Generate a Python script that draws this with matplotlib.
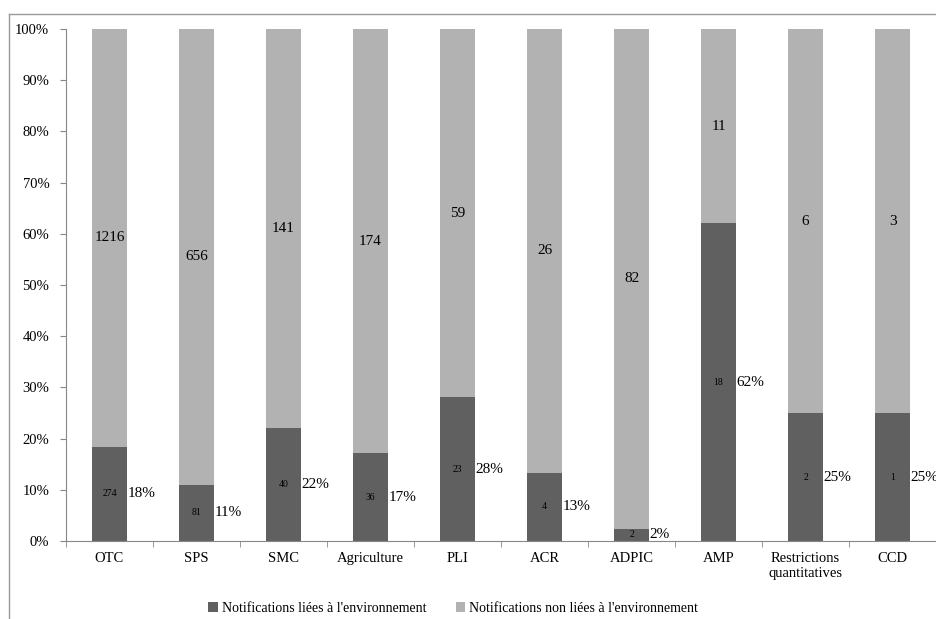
import numpy as np
import matplotlib.pyplot as plt
from matplotlib.lines import Line2D

plt.rcParams['font.family'] = ['Liberation Serif', 'DejaVu Serif']

categories = ['OTC', 'SPS', 'SMC', 'Agriculture', 'PLI', 'ACR', 'ADPIC', 'AMP',
              'Restrictions\nquantitatives', 'CCD']
env = [274, 81, 40, 36, 23, 4, 2, 18, 2, 1]
non_env = [1216, 656, 141, 174, 59, 26, 82, 11, 6, 3]

env = np.array(env, dtype=float)
non_env = np.array(non_env, dtype=float)
total = env + non_env
env_pct = env / total * 100
non_pct = non_env / total * 100

dark = '#606060'
light = '#b2b2b2'

fig = plt.figure(figsize=(9.37, 6.19), dpi=100)
ax = fig.add_axes([0.0704, 0.126, 0.9286, 0.827])

x = np.arange(len(categories))
width = 0.40
ax.bar(x, env_pct, width, color=dark, label="Notifications liées à l'environnement")
ax.bar(x, non_pct, width, bottom=env_pct, color=light,
       label="Notifications non liées à l'environnement")

for i in range(len(categories)):
    ax.text(x[i], env_pct[i] / 2, f'{int(env[i])}', ha='center', va='center', fontsize=7)
    ax.text(x[i] + width / 2 + 0.005, env_pct[i] / 2, f'{env_pct[i]:.0f}%',
            ha='left', va='center', fontsize=11)
    ax.text(x[i], env_pct[i] + non_pct[i] / 2, f'{int(non_env[i])}',
            ha='center', va='center', fontsize=11)

ax.set_xlim(-0.5, len(categories) - 0.5)
ax.set_ylim(0, 100)
ax.set_yticks(np.arange(0, 101, 10))
ax.set_yticklabels([f'{v}%' for v in range(0, 101, 10)], fontsize=10.5)
ax.set_xticks(x)
ax.set_xticklabels(categories, fontsize=10.5)
ax.tick_params(axis='x', length=0, pad=8)
ax.set_xticks(np.arange(-0.5, len(categories), 1), minor=True)
ax.tick_params(axis='x', which='minor', length=4, color='#888888')
ax.tick_params(axis='y', length=4, color='#888888', pad=8)

for s in ['top', 'right']:
    ax.spines[s].set_visible(False)
for s in ['left', 'bottom']:
    ax.spines[s].set_color('#888888')

ax.legend(loc='upper center', bbox_to_anchor=(0.445, -0.095), ncol=2, frameon=False,
          fontsize=10, handlelength=0.7, handleheight=0.7, handletextpad=0.3,
          columnspacing=2.1)

# outer chart frame
fig.add_artist(Line2D([9 / 937, 1], [1 - 14 / 619, 1 - 14 / 619], color='#999999', lw=1))
fig.add_artist(Line2D([9 / 937, 9 / 937], [0, 1 - 14 / 619], color='#999999', lw=1))

fig.savefig('out.png', dpi=100)
